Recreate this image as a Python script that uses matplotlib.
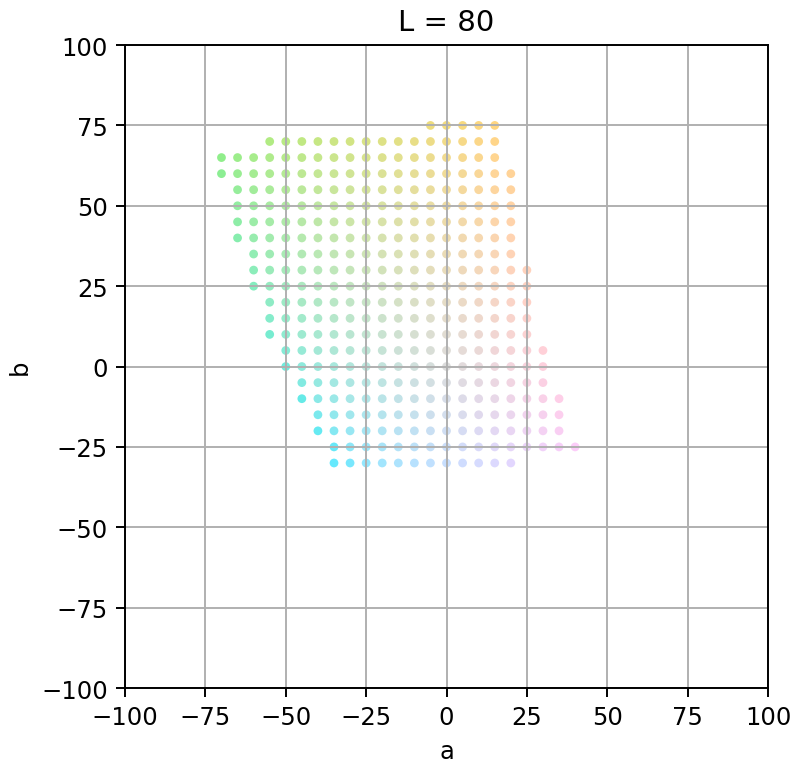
import numpy as np
import matplotlib
matplotlib.use("Agg")
import matplotlib.pyplot as plt

# Lightness of the slice
L_value = 80

# In-gamut rows of the slice: b value and the a range covered (step 5)
b_rows = [75, 70, 65, 60, 55, 50, 45, 40, 35, 30, 25, 20, 15, 10, 5, 0,
          -5, -10, -15, -20, -25, -30]
a_start = [-5, -55, -70, -70, -65, -65, -65, -65, -60, -60, -60, -55, -55, -55,
           -50, -50, -45, -45, -40, -40, -35, -35]
a_stop = [15, 15, 15, 20, 20, 20, 20, 20, 20, 25, 25, 25, 25, 25,
          30, 30, 30, 35, 35, 35, 40, 20]
step = 5


def lab_to_srgb(L, a, b):
    """CIE Lab (D65) to sRGB in [0, 1]."""
    fy = (L + 16) / 116.0
    fx = fy + a / 500.0
    fz = fy - b / 200.0
    eps = 6 / 29

    def finv(t):
        return np.where(t > eps, t ** 3, 3 * eps ** 2 * (t - 4 / 29))

    X = 0.95047 * finv(fx)
    Y = 1.00000 * finv(fy)
    Z = 1.08883 * finv(fz)
    M = np.array([[3.2404542, -1.5371385, -0.4985314],
                  [-0.9692660, 1.8760108, 0.0415560],
                  [0.0556434, -0.2040259, 1.0572252]])
    rgb_lin = M @ np.vstack([X, Y, Z])
    rgb_lin = np.clip(rgb_lin, 0, 1)
    rgb = np.where(rgb_lin <= 0.0031308, 12.92 * rgb_lin,
                   1.055 * rgb_lin ** (1 / 2.4) - 0.055)
    return np.clip(rgb.T, 0, 1)


a_vals, b_vals = [], []
for bv, a0, a1 in zip(b_rows, a_start, a_stop):
    for av in range(a0, a1 + 1, step):
        a_vals.append(av)
        b_vals.append(bv)
a_vals = np.array(a_vals, dtype=float)
b_vals = np.array(b_vals, dtype=float)
colors = lab_to_srgb(np.full_like(a_vals, L_value), a_vals, b_vals)

DPI = 175
fig = plt.figure(figsize=(791 / DPI, 765 / DPI), dpi=DPI)
ax = fig.add_axes([0.158, 0.0993, 0.813, 0.8405])
ax.scatter(a_vals, b_vals, c=colors, s=13, alpha=0.6, linewidths=0)
ax.set_xlim(-100, 100)
ax.set_ylim(-100, 100)
ax.set_aspect("equal")
ticks = np.arange(-100, 101, 25)
ax.set_xticks(ticks)
ax.set_yticks(ticks)
ax.grid(True)
ax.set_xlabel("a")
ax.set_ylabel("b")
ax.set_title(f"L = {L_value}")
fig.savefig("out.png", dpi=DPI)
